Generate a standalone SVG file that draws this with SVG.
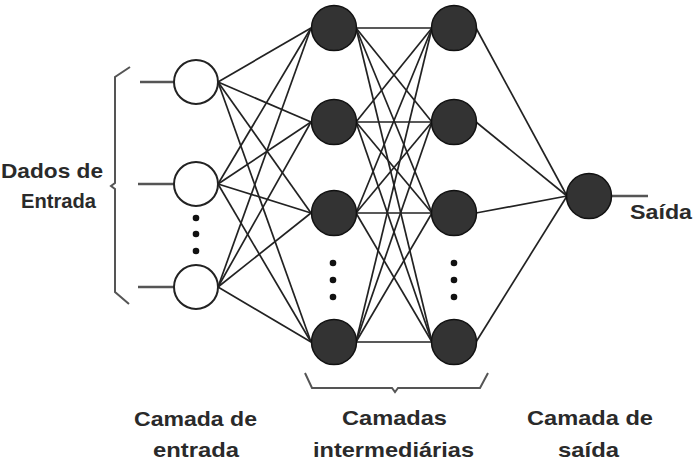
<svg xmlns="http://www.w3.org/2000/svg" width="698" height="469" viewBox="0 0 698 469">
<style>
.bg{fill:#ffffff}
.in{fill:#ffffff;stroke:#222;stroke-width:2}
.hid{fill:#333;stroke:#111;stroke-width:1.5}
.edge{stroke:#222;stroke-width:1.7;fill:none}
.io{stroke:#555;stroke-width:2.5;fill:none}
.brace{stroke:#555;stroke-width:2;fill:none}
.dot{fill:#111}
.lbl{font-family:"Liberation Sans",Arial,sans-serif;font-weight:bold;font-size:21px;fill:#2a2a2a}
</style>
<rect class="bg" x="0" y="0" width="698" height="469"/>
<g id="connectors">
<line class="io" x1="140" y1="82" x2="174" y2="82"/>
<line class="io" x1="138" y1="184" x2="174" y2="184"/>
<line class="io" x1="138" y1="287" x2="174" y2="287"/>
<line class="io" x1="612" y1="196" x2="648" y2="196"/>
<line class="edge" x1="218" y1="82" x2="311" y2="28"/>
<line class="edge" x1="218" y1="82" x2="311" y2="122"/>
<line class="edge" x1="218" y1="82" x2="311" y2="213"/>
<line class="edge" x1="218" y1="82" x2="311" y2="342"/>
<line class="edge" x1="218" y1="184" x2="311" y2="28"/>
<line class="edge" x1="218" y1="184" x2="311" y2="122"/>
<line class="edge" x1="218" y1="184" x2="311" y2="213"/>
<line class="edge" x1="218" y1="184" x2="311" y2="342"/>
<line class="edge" x1="218" y1="287" x2="311" y2="28"/>
<line class="edge" x1="218" y1="287" x2="311" y2="122"/>
<line class="edge" x1="218" y1="287" x2="311" y2="213"/>
<line class="edge" x1="218" y1="287" x2="311" y2="342"/>
<line class="edge" x1="356" y1="28" x2="432" y2="28"/>
<line class="edge" x1="356" y1="28" x2="432" y2="122"/>
<line class="edge" x1="356" y1="28" x2="432" y2="213"/>
<line class="edge" x1="356" y1="28" x2="432" y2="342"/>
<line class="edge" x1="356" y1="122" x2="432" y2="28"/>
<line class="edge" x1="356" y1="122" x2="432" y2="122"/>
<line class="edge" x1="356" y1="122" x2="432" y2="213"/>
<line class="edge" x1="356" y1="122" x2="432" y2="342"/>
<line class="edge" x1="356" y1="213" x2="432" y2="28"/>
<line class="edge" x1="356" y1="213" x2="432" y2="122"/>
<line class="edge" x1="356" y1="213" x2="432" y2="213"/>
<line class="edge" x1="356" y1="213" x2="432" y2="342"/>
<line class="edge" x1="356" y1="342" x2="432" y2="28"/>
<line class="edge" x1="356" y1="342" x2="432" y2="122"/>
<line class="edge" x1="356" y1="342" x2="432" y2="213"/>
<line class="edge" x1="356" y1="342" x2="432" y2="342"/>
<line class="edge" x1="476" y1="28" x2="567" y2="196"/>
<line class="edge" x1="476" y1="122" x2="567" y2="196"/>
<line class="edge" x1="476" y1="213" x2="567" y2="196"/>
<line class="edge" x1="476" y1="342" x2="567" y2="196"/>
</g>
<g id="braces">
<path class="brace" d="M130,67 L115,77 L115,183 L111,186 L115,189 L115,292 L129,304"/>
<path class="brace" d="M305,373 L312,388 L392,388 L395,392 L398,388 L480,388 L488,373"/>
</g>
<g id="input1"><circle class="in" cx="196" cy="82" r="22"/></g>
<g id="input2"><circle class="in" cx="196" cy="184" r="22"/></g>
<g id="input3"><circle class="in" cx="196" cy="287" r="22"/></g>
<g id="input-dots">
<circle class="dot" cx="196" cy="218" r="3.3"/>
<circle class="dot" cx="196" cy="234" r="3.3"/>
<circle class="dot" cx="196" cy="251" r="3.3"/>
</g>
<g id="h1a"><circle class="hid" cx="334" cy="28" r="22.5"/></g>
<g id="h1b"><circle class="hid" cx="334" cy="122" r="22.5"/></g>
<g id="h1c"><circle class="hid" cx="334" cy="213" r="22.5"/></g>
<g id="h1d"><circle class="hid" cx="334" cy="342" r="22.5"/></g>
<g id="h1-dots">
<circle class="dot" cx="333" cy="263" r="3.3"/>
<circle class="dot" cx="333" cy="280" r="3.3"/>
<circle class="dot" cx="333" cy="297" r="3.3"/>
</g>
<g id="h2a"><circle class="hid" cx="454" cy="28" r="22.5"/></g>
<g id="h2b"><circle class="hid" cx="454" cy="122" r="22.5"/></g>
<g id="h2c"><circle class="hid" cx="454" cy="213" r="22.5"/></g>
<g id="h2d"><circle class="hid" cx="454" cy="342" r="22.5"/></g>
<g id="h2-dots">
<circle class="dot" cx="454" cy="263" r="3.3"/>
<circle class="dot" cx="454" cy="280" r="3.3"/>
<circle class="dot" cx="454" cy="297" r="3.3"/>
</g>
<g id="output"><circle class="hid" cx="589" cy="196" r="22.5"/></g>
<g id="labels">
<text class="lbl" x="1" y="178" textLength="102" lengthAdjust="spacingAndGlyphs">Dados de</text>
<text class="lbl" x="21" y="208" textLength="75" lengthAdjust="spacingAndGlyphs">Entrada</text>
<text class="lbl" x="630" y="219" textLength="62" lengthAdjust="spacingAndGlyphs">Saída</text>
<text class="lbl" x="134" y="426" textLength="123" lengthAdjust="spacingAndGlyphs">Camada de</text>
<text class="lbl" x="153" y="457" textLength="86" lengthAdjust="spacingAndGlyphs">entrada</text>
<text class="lbl" x="342" y="425" textLength="105" lengthAdjust="spacingAndGlyphs">Camadas</text>
<text class="lbl" x="313" y="457" textLength="161" lengthAdjust="spacingAndGlyphs">intermediárias</text>
<text class="lbl" x="527" y="425" textLength="126" lengthAdjust="spacingAndGlyphs">Camada de</text>
<text class="lbl" x="558" y="457" textLength="61" lengthAdjust="spacingAndGlyphs">saída</text>
</g>
</svg>
